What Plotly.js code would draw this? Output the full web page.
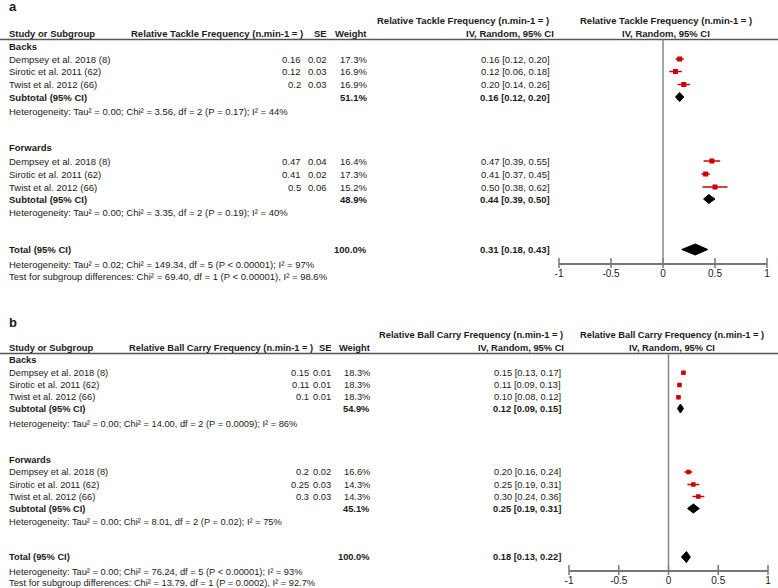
<!DOCTYPE html>
<html>
<head>
<meta charset="utf-8">
<script src="https://cdn.plot.ly/plotly-3.0.1.min.js"></script>
<style>html,body{margin:0;padding:0;background:#fff;}#chart{width:778px;height:588px;}</style>
</head>
<body>
<div id="chart"></div>
<script>
// ---------------- DATA ----------------
const studies = ["Dempsey et al. 2018 (8)", "Sirotic et al. 2011 (62)", "Twist et al. 2012 (66)"];
const groups = ["Backs", "Forwards"];

// Panel a: Relative Tackle Frequency
const tackleBacksMean = [0.16, 0.12, 0.2];
const tackleBacksSE = [0.02, 0.03, 0.03];
const tackleBacksWeight = [17.3, 16.9, 16.9];
const tackleBacksLo = [0.12, 0.06, 0.14];
const tackleBacksHi = [0.20, 0.18, 0.26];
const tackleFwdMean = [0.47, 0.41, 0.5];
const tackleFwdSE = [0.04, 0.02, 0.06];
const tackleFwdWeight = [16.4, 17.3, 15.2];
const tackleFwdLo = [0.39, 0.37, 0.38];
const tackleFwdHi = [0.55, 0.45, 0.62];
// summaries: [backs subtotal, forwards subtotal, total]
const tackleSumMean = [0.16, 0.44, 0.31];
const tackleSumLo = [0.12, 0.39, 0.18];
const tackleSumHi = [0.20, 0.50, 0.43];
const tackleSumWeight = [51.1, 48.9, 100.0];
const tackleHet = [
  "Heterogeneity: Tau² = 0.00; Chi² = 3.56, df = 2 (P = 0.17); I² = 44%",
  "Heterogeneity: Tau² = 0.00; Chi² = 3.35, df = 2 (P = 0.19); I² = 40%",
  "Heterogeneity: Tau² = 0.02; Chi² = 149.34, df = 5 (P < 0.00001); I² = 97%",
  "Test for subgroup differences: Chi² = 69.40, df = 1 (P < 0.00001), I² = 98.6%"
];

// Panel b: Relative Ball Carry Frequency
const carryBacksMean = [0.15, 0.11, 0.1];
const carryBacksSE = [0.01, 0.01, 0.01];
const carryBacksWeight = [18.3, 18.3, 18.3];
const carryBacksLo = [0.13, 0.09, 0.08];
const carryBacksHi = [0.17, 0.13, 0.12];
const carryFwdMean = [0.2, 0.25, 0.3];
const carryFwdSE = [0.02, 0.03, 0.03];
const carryFwdWeight = [16.6, 14.3, 14.3];
const carryFwdLo = [0.16, 0.19, 0.24];
const carryFwdHi = [0.24, 0.31, 0.36];
const carrySumMean = [0.12, 0.25, 0.18];
const carrySumLo = [0.09, 0.19, 0.13];
const carrySumHi = [0.15, 0.31, 0.22];
const carrySumWeight = [54.9, 45.1, 100.0];
const carryHet = [
  "Heterogeneity: Tau² = 0.00; Chi² = 14.00, df = 2 (P = 0.0009); I² = 86%",
  "Heterogeneity: Tau² = 0.00; Chi² = 8.01, df = 2 (P = 0.02); I² = 75%",
  "Heterogeneity: Tau² = 0.00; Chi² = 76.24, df = 5 (P < 0.00001); I² = 93%",
  "Test for subgroup differences: Chi² = 13.79, df = 1 (P = 0.0002), I² = 92.7%"
];

const tickVals = [-1, -0.5, 0, 0.5, 1];
const tickText = ["-1", "-0.5", "0", "0.5", "1"];

// ---------------- LAYOUT CONSTANTS (pixel rows / columns) ----------------
const W = 778, H = 588;
const FONT = "Liberation Sans, Arial, Helvetica, sans-serif";
const TXT = "#1a1a1a";
const RED = "#cc0000";
const AXC = "#777";

const panels = [
  {
    label: "a", measure: "Relative Tackle Frequency (n.min-1 = )", fs: 9.5,
    bm: tackleBacksMean, bse: tackleBacksSE, bw: tackleBacksWeight, blo: tackleBacksLo, bhi: tackleBacksHi,
    fm: tackleFwdMean, fse: tackleFwdSE, fw: tackleFwdWeight, flo: tackleFwdLo, fhi: tackleFwdHi,
    sm: tackleSumMean, slo: tackleSumLo, shi: tackleSumHi, sw: tackleSumWeight, het: tackleHet,
    rows: {title: 6, head1: 20.5, head2: 33.5, rule: 39.5, g1: 46, s1: [59, 71.5, 84.5], sub1: 97, het1: 111.5,
           g2: 147.5, s2: [161, 174, 187], sub2: 199, het2: 212.5, total: 249.5, hetT: 264, test: 276, axis: 263},
    cols: {name: 8, mean: 302, se: 328, weight: 368, ci: 551, head1ci: 550, head2ci: 555, headMeasure: 130,
           forestCenter: 666, fx0: 559, fx1: 767},
    xa: "x2", xaName: "xaxis2"
  },
  {
    label: "b", measure: "Relative Ball Carry Frequency (n.min-1 = )", fs: 9.3,
    bm: carryBacksMean, bse: carryBacksSE, bw: carryBacksWeight, blo: carryBacksLo, bhi: carryBacksHi,
    fm: carryFwdMean, fse: carryFwdSE, fw: carryFwdWeight, flo: carryFwdLo, fhi: carryFwdHi,
    sm: carrySumMean, slo: carrySumLo, shi: carrySumHi, sw: carrySumWeight, het: carryHet,
    rows: {title: 322, head1: 335, head2: 348, rule: 353.5, g1: 360, s1: [372.7, 385, 397.3], sub1: 408.5, het1: 423.5,
           g2: 460, s2: [472, 484.5, 496.5], sub2: 508.5, het2: 522, total: 557, hetT: 571.5, test: 583.3, axis: 570},
    cols: {name: 8, mean: 310, se: 332, weight: 371, ci: 562, head1ci: 564, head2ci: 565, headMeasure: 128,
           forestCenter: 672, fx0: 569, fx1: 768},
    xa: "x3", xaName: "xaxis3"
  }
];

const traces = [];
const annotations = [];
const shapes = [];
const layout = {
  width: W, height: H, margin: {l: 0, r: 0, t: 0, b: 0},
  paper_bgcolor: "#fff", plot_bgcolor: "rgba(0,0,0,0)", showlegend: false,
  font: {family: FONT, size: 9.5, color: TXT},
  xaxis: {range: [0, W], domain: [0, 1], visible: false, fixedrange: true},
  yaxis: {range: [H, 0], domain: [0, 1], visible: false, fixedrange: true},
  annotations: annotations, shapes: shapes
};

let curSize = 9.5;
function txt(x, y, text, anchor, size) {
  annotations.push({
    xref: "x", yref: "y", x: x, y: y, text: text, showarrow: false,
    xanchor: anchor, yanchor: "middle", borderpad: 0,
    font: {family: FONT, size: size || curSize, color: TXT}
  });
}
const b = s => "<b>" + s + "</b>";
const ciStr = (m, lo, hi) => m.toFixed(2) + " [" + lo.toFixed(2) + ", " + hi.toFixed(2) + "]";

panels.forEach(p => {
  const R = p.rows, C = p.cols;
  curSize = p.fs;
  // panel label
  txt(C.name, R.title, b(p.label), "left", 13);
  // headers
  txt(C.head1ci, R.head1, b(p.measure), "right");
  txt(C.forestCenter, R.head1, b(p.measure), "center");
  txt(C.name, R.head2, b("Study or Subgroup"), "left");
  txt(C.headMeasure, R.head2, b(p.measure), "left");
  txt(C.se, R.head2, b("SE"), "right");
  txt(C.weight, R.head2, b("Weight"), "right");
  txt(C.head2ci, R.head2, b("IV, Random, 95% CI"), "right");
  txt(C.forestCenter, R.head2, b("IV, Random, 95% CI"), "center");
  shapes.push({type: "line", xref: "paper", yref: "y", x0: 0, x1: 1, y0: R.rule, y1: R.rule,
               line: {color: "#555", width: 1.5}});

  const groupData = [
    {name: groups[0], rowG: R.g1, rows: R.s1, m: p.bm, se: p.bse, w: p.bw, lo: p.blo, hi: p.bhi, subRow: R.sub1, hetRow: R.het1, k: 0},
    {name: groups[1], rowG: R.g2, rows: R.s2, m: p.fm, se: p.fse, w: p.fw, lo: p.flo, hi: p.fhi, subRow: R.sub2, hetRow: R.het2, k: 1}
  ];
  groupData.forEach(g => {
    txt(C.name, g.rowG, b(g.name), "left");
    studies.forEach((s, i) => {
      txt(C.name, g.rows[i], s, "left");
      txt(C.mean, g.rows[i], String(g.m[i]), "right");
      txt(C.se, g.rows[i], String(g.se[i]), "right");
      txt(C.weight, g.rows[i], g.w[i].toFixed(1) + "%", "right");
      txt(C.ci, g.rows[i], ciStr(g.m[i], g.lo[i], g.hi[i]), "right");
    });
    txt(C.name, g.subRow, b("Subtotal (95% CI)"), "left");
    txt(C.weight, g.subRow, b(p.sw[g.k].toFixed(1) + "%"), "right");
    txt(C.ci, g.subRow, b(ciStr(p.sm[g.k], p.slo[g.k], p.shi[g.k])), "right");
    txt(C.name, g.hetRow, p.het[g.k], "left");

    // study squares with CI
    traces.push({
      type: "scatter", mode: "markers", xaxis: p.xa, yaxis: "y",
      x: g.m, y: g.rows, hoverinfo: "skip",
      marker: {symbol: "square", size: p.label === "a" ? 5 : 4.5, color: RED},
      error_x: {type: "data", symmetric: false,
                array: g.m.map((v, i) => g.hi[i] - v),
                arrayminus: g.m.map((v, i) => v - g.lo[i]),
                color: RED, thickness: 1.5, width: 0}
    });
  });
  // total
  txt(C.name, R.total, b("Total (95% CI)"), "left");
  txt(C.weight, R.total, b(p.sw[2].toFixed(1) + "%"), "right");
  txt(C.ci, R.total, b(ciStr(p.sm[2], p.slo[2], p.shi[2])), "right");
  txt(C.name, R.hetT, p.het[2], "left");
  txt(C.name, R.test, p.het[3], "left");

  // diamonds
  const sumRows = [R.sub1, R.sub2, R.total];
  const halfH = [4.5, 4.5, 5.5];
  sumRows.forEach((ry, k) => {
    traces.push({
      type: "scatter", mode: "lines", xaxis: p.xa, yaxis: "y", hoverinfo: "skip",
      x: [p.slo[k], p.sm[k], p.shi[k], p.sm[k], p.slo[k]],
      y: [ry, ry - halfH[k], ry, ry + halfH[k], ry],
      fill: "toself", fillcolor: "#000", line: {color: "#000", width: 1}
    });
  });

  // zero line
  shapes.push({type: "line", xref: p.xa, yref: "y", x0: 0, x1: 0, y0: R.rule, y1: R.axis,
               line: {color: "#888", width: 1.5}});

  // tick marks crossing the axis line
  traces.push({
    type: "scatter", mode: "markers", xaxis: p.xa, yaxis: "y", hoverinfo: "skip",
    x: tickVals, y: tickVals.map(() => R.axis), cliponaxis: false,
    marker: {symbol: "line-ns-open", size: 7, color: AXC, line: {color: AXC, width: 1.5}}
  });

  const axPos = 1 - R.axis / H;
  layout[p.xaName] = {
    domain: [C.fx0 / W, C.fx1 / W], range: [-1, 1], anchor: "free", position: axPos,
    showgrid: false, zeroline: false, showline: true, linecolor: AXC, linewidth: 1.5,
    ticks: "", ticklabelstandoff: 0,
    tickmode: "array", tickvals: tickVals, ticktext: tickText,
    tickfont: {family: FONT, size: 10, color: TXT}, fixedrange: true
  };
});

Plotly.newPlot("chart", traces, layout, {staticPlot: true, displayModeBar: false});
</script>
</body>
</html>
